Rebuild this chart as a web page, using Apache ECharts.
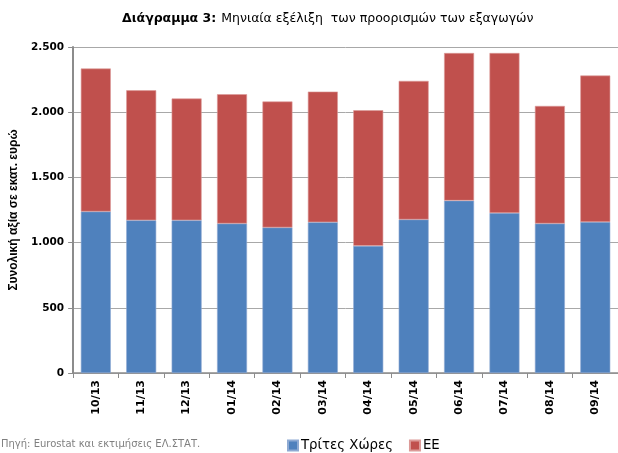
<!DOCTYPE html>
<html>
<head>
<meta charset="utf-8">
<script src="https://cdn.jsdelivr.net/npm/echarts@6/dist/echarts.min.js"></script>
<style>html,body{margin:0;padding:0;background:#fff}#c{width:618px;height:453px}</style>
</head>
<body>
<div id="c"></div>
<script>
const categories = ['10/13','11/13','12/13','01/14','02/14','03/14','04/14','05/14','06/14','07/14','08/14','09/14'];
const thirdCountries = [1238, 1171, 1171, 1146, 1116, 1156, 975, 1177, 1322, 1227, 1146, 1158];
const eu = [1097, 997, 934, 992, 966, 1002, 1040, 1063, 1132, 1227, 902, 1123];
const yTicks = [0, 500, 1000, 1500, 2000, 2500];
const seriesNames = ['Τρίτες Χώρες', 'ΕΕ'];

const chart = echarts.init(document.getElementById('c'), null, {renderer: 'canvas'});
const fmt = v => String(v).replace(/\B(?=(\d{3})+(?!\d))/g, '.');
chart.setOption({
  animation: false,
  backgroundColor: '#fff',
  title: {
    left: 122, top: 10, padding: 0,
    text: '{b|Διάγραμμα 3:} {n|Μηνιαία εξέλιξη  των προορισμών των εξαγωγών}',
    textStyle: {
      rich: {
        b: {fontFamily: 'DejaVu Sans', fontWeight: 'bold', fontSize: 12.5, color: '#000'},
        n: {fontFamily: 'DejaVu Sans', fontWeight: 'normal', fontSize: 12.5, color: '#000'}
      }
    }
  },
  legend: {
    left: 287, top: 439, padding: 0,
    itemWidth: 10, itemHeight: 10, itemGap: 16,
    icon: 'rect',
    data: seriesNames,
    textStyle: {fontFamily: 'DejaVu Sans', fontSize: 13.3, color: '#000', padding: [0,0,0,-2]}
  },
  graphic: [{
    type: 'text', left: 1, top: 439,
    style: {text: 'Πηγή: Eurostat και εκτιμήσεις ΕΛ.ΣΤΑΤ.', fill: '#7f7f7f', font: '10px "DejaVu Sans"'}
  }],
  grid: {left: 69.5, top: 47, right: -5, height: 326, containLabel: false},
  xAxis: {
    type: 'category',
    data: categories,
    axisLine: {show: true, lineStyle: {color: '#8c8c8c', width: 1.5}},
    axisTick: {show: true, length: 5, lineStyle: {color: '#8c8c8c'}},
    axisLabel: {rotate: 90, margin: 7, fontFamily: 'DejaVu Sans', fontWeight: 'bold', fontSize: 11, color: '#000'},
    splitLine: {show: false}
  },
  yAxis: {
    type: 'value',
    min: 0, max: 2500, interval: 500,
    name: 'Συνολική αξία σε εκατ. ευρώ',
    nameLocation: 'middle',
    nameGap: 48,
    nameTextStyle: {fontFamily: 'Liberation Sans', fontWeight: 'bold', fontSize: 12, color: '#000'},
    axisLine: {show: true, lineStyle: {color: '#8c8c8c', width: 2}},
    axisTick: {show: true, length: 5, lineStyle: {color: '#8c8c8c'}},
    axisLabel: {margin: 9, fontFamily: 'DejaVu Sans', fontWeight: 'bold', fontSize: 10.5, color: '#000',
      formatter: v => yTicks.includes(v) ? fmt(v) : ''},
    splitLine: {show: true, lineStyle: {color: '#a8a8a8', width: 1}}
  },
  series: [
    {name: seriesNames[0], type: 'bar', stack: 'a', data: thirdCountries, barWidth: '66%',
     itemStyle: {color: '#4F81BD', borderColor: '#8eaad3', borderWidth: 0.6}},
    {name: seriesNames[1], type: 'bar', stack: 'a', data: eu, barWidth: '66%',
     itemStyle: {color: '#C0504D', borderColor: '#dc9a98', borderWidth: 0.6}}
  ]
});
</script>
</body>
</html>
